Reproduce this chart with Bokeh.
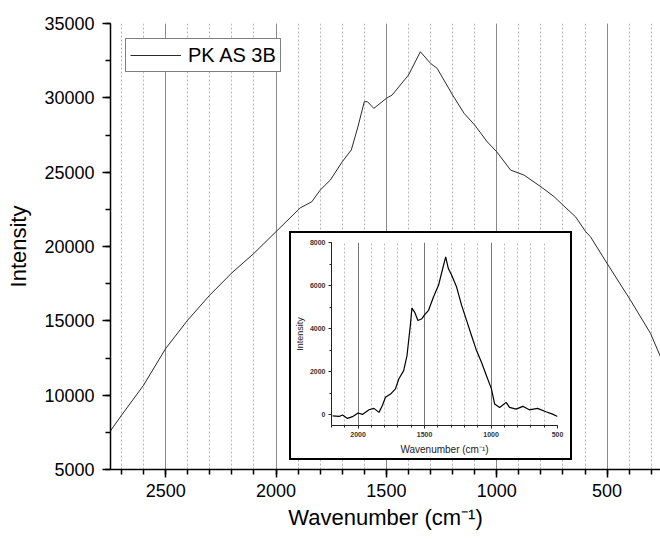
from bokeh.plotting import figure
from bokeh.models import Range1d, SingleIntervalTicker, Legend, LegendItem, GlobalInlineStyleSheet
from bokeh.layouts import column
from bokeh.embed import file_html
from bokeh.resources import INLINE

# Main spectrum
wn_main = [2750, 2700, 2600, 2500, 2400, 2300, 2200, 2100, 2000, 1890, 1838, 1800, 1754,
           1700, 1659, 1629, 1600, 1586, 1557, 1500, 1474, 1400, 1346, 1300, 1270, 1200,
           1148, 1100, 1043, 1000, 937, 876, 800, 740, 700, 643, 597, 575, 500, 394, 303, 258]
int_main = [7600, 8650, 10670, 13140, 15050, 16730, 18230, 19540, 21000, 22600, 23010, 23790, 24470,
            25700, 26490, 28050, 29740, 29740, 29290, 29965, 30190, 31530, 33100, 32320, 31980, 30190,
            28960, 28170, 27040, 26370, 25140, 24800, 24020, 23350, 22780, 22000, 21000, 20650, 18860, 16390, 14150, 12580]

# Inset (baseline-corrected) spectrum
wn_inset = [2192, 2142, 2117, 2080, 2042, 2000, 1968, 1918, 1881, 1843, 1818, 1794, 1756, 1719,
            1694, 1657, 1632, 1607, 1595, 1575, 1550, 1520, 1500, 1470, 1433, 1395, 1370, 1341,
            1321, 1296, 1259, 1221, 1184, 1147, 1109, 1072, 1035, 997, 973, 935, 886, 861, 811,
            761, 712, 650, 587, 537, 500]
int_inset = [-50, -80, -15, -170, -90, 80, 15, 230, 295, 110, 420, 810, 960, 1200,
             1660, 2050, 2750, 4150, 4950, 4770, 4380, 4460, 4640, 4850, 5470, 6010, 6630, 7330,
             6790, 6480, 5930, 5080, 4380, 3680, 2980, 2440, 1820, 1200, 500, 340, 575, 340, 260,
             390, 230, 295, 140, 30, -80]

legend_label = "PK AS 3B"
FONT = "Liberation Sans"

# ---------------- main figure ----------------
p = figure(width=660, height=539, output_backend="svg", toolbar_location=None,
           x_range=Range1d(2750, 258), y_range=Range1d(5000, 35000),
           min_border_left=110, min_border_right=0, min_border_top=23, min_border_bottom=70)
p.outline_line_color = None
p.background_fill_color = "white"
p.border_fill_color = "white"

r = p.line(wn_main, int_main, line_color="#2a2a2a", line_width=1)

p.xaxis.ticker = SingleIntervalTicker(interval=500, num_minor_ticks=5)
p.yaxis.ticker = SingleIntervalTicker(interval=5000, num_minor_ticks=2)
for ax in (p.xaxis[0], p.yaxis[0]):
    ax.axis_line_color = "black"
    ax.axis_line_width = 1.5
    ax.major_tick_line_color = "black"
    ax.minor_tick_line_color = "black"
    ax.major_tick_line_width = 1.5
    ax.minor_tick_line_width = 1.5
    ax.major_tick_in = 0
    ax.minor_tick_in = 0
    ax.major_tick_out = 8
    ax.minor_tick_out = 5
    ax.major_label_text_font = FONT
    ax.major_label_text_font_size = "18px"
    ax.major_label_text_color = "black"
    ax.axis_label_text_font = FONT
    ax.axis_label_text_font_size = "22px"
    ax.axis_label_text_font_style = "normal"
    ax.axis_label_text_color = "black"
p.xaxis.axis_label = "Wavenumber (cm\u207b\u00b9)"
p.yaxis.axis_label = "Intensity"
p.xaxis.major_label_standoff = 6
p.yaxis.major_label_standoff = 8
p.yaxis.axis_label_standoff = 10
p.xaxis.axis_label_standoff = 5

p.xgrid.grid_line_color = "#8a8a8a"
p.xgrid.grid_line_width = 1
p.xgrid.minor_grid_line_color = "#b5b5b5"
p.xgrid.minor_grid_line_dash = "2 2"
p.xgrid.minor_grid_line_width = 1
p.ygrid.grid_line_color = None

legend = Legend(items=[LegendItem(label=legend_label, renderers=[r])], location="top_left")
legend.margin = 15
legend.padding = 4
legend.glyph_width = 51
legend.glyph_height = 24
legend.label_height = 24
legend.label_standoff = 7
legend.label_text_font = FONT
legend.label_text_font_size = "20px"
legend.label_text_color = "black"
legend.border_line_color = "black"
legend.border_line_width = 1
legend.background_fill_alpha = 1
legend.spacing = 0
p.add_layout(legend, "center")

# ---------------- inset figure ----------------
ins = figure(width=279, height=225, output_backend="svg", toolbar_location=None,
             x_range=Range1d(2200, 500), y_range=Range1d(-500, 8000),
             min_border_left=40, min_border_right=13, min_border_top=9, min_border_bottom=33)
ins.outline_line_color = None
ins.border_fill_color = "white"
ins.styles = {"position": "absolute", "left": "291px", "top": "233px",
              "outline": "2px solid black", "background": "white", "z-index": "10"}
ins.line(wn_inset, int_inset, line_color="black", line_width=1.2)
ins.xaxis.ticker = SingleIntervalTicker(interval=500, num_minor_ticks=5)
ins.yaxis.ticker = SingleIntervalTicker(interval=2000, num_minor_ticks=2)
for ax in (ins.xaxis[0], ins.yaxis[0]):
    ax.axis_line_color = "#222"
    ax.axis_line_width = 1
    ax.major_tick_line_color = "#222"
    ax.minor_tick_line_color = "#222"
    ax.major_tick_in = 0
    ax.minor_tick_in = 0
    ax.major_tick_out = 3
    ax.minor_tick_out = 2
    ax.major_label_text_font = FONT
    ax.major_label_text_font_size = "7px"
    ax.major_label_text_font_style = "bold"
    ax.major_label_text_color = "#333"
    ax.major_label_standoff = 3
    ax.axis_label_text_font = FONT
    ax.axis_label_text_font_style = "normal"
    ax.axis_label_text_color = "#222"
    ax.axis_label_standoff = 4
ins.yaxis.axis_label_standoff = 2
ins.xaxis.axis_label = "Wavenumber (cm\u207b\u00b9)"
ins.xaxis.axis_label_text_font_size = "10px"
ins.yaxis.axis_label = "Intensity"
ins.yaxis.axis_label_text_font_size = "9px"
ins.xgrid.grid_line_color = "#777"
ins.xgrid.minor_grid_line_color = "#bbb"
ins.xgrid.minor_grid_line_dash = "2 2"
ins.ygrid.grid_line_color = None

# keep each figure's own borders (no frame alignment inside the column)
for fig in (p, ins):
    if "frame_align" in fig.properties():
        fig.frame_align = False

page_css = GlobalInlineStyleSheet(css="html, body { overflow: hidden !important; }")
root = column(p, ins, styles={"position": "relative"}, stylesheets=[page_css])

open("out.html", "w").write(file_html(root, INLINE))
